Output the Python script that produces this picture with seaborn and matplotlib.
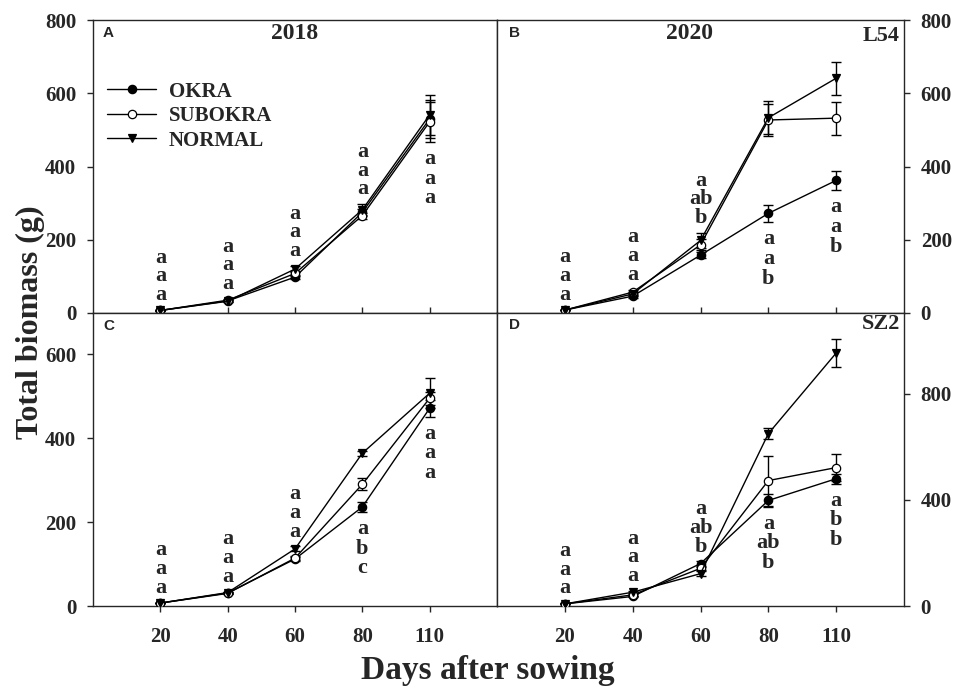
import numpy as np
import pandas as pd
import matplotlib
matplotlib.use("Agg")
import matplotlib.pyplot as plt
from matplotlib.lines import Line2D
import seaborn as sns

# ---------------- data ----------------
days = ["20", "40", "60", "80", "110"]
series = ["OKRA", "SUBOKRA", "NORMAL"]

# Panel A (2018)
a_okra = [7, 33, 98, 275, 530]
a_okra_err = [1, 3, 6, 10, 52]
a_sub = [7, 35, 108, 266, 522]
a_sub_err = [1, 3, 6, 8, 55]
a_norm = [7, 32, 120, 282, 541]
a_norm_err = [1, 3, 8, 15, 55]

# Panel B (2020, L54)
b_okra = [8, 46, 158, 272, 362]
b_okra_err = [1, 4, 8, 24, 27]
b_sub = [8, 57, 186, 527, 532]
b_sub_err = [1, 6, 15, 45, 45]
b_norm = [8, 52, 198, 533, 641]
b_norm_err = [1, 5, 20, 45, 45]

# Panel C
c_okra = [7, 31, 112, 236, 471]
c_okra_err = [1, 2, 5, 12, 20]
c_sub = [7, 30, 114, 290, 495]
c_sub_err = [1, 2, 5, 14, 15]
c_norm = [7, 32, 136, 364, 507]
c_norm_err = [1, 2, 6, 6, 36]

# Panel D (SZ2)
d_okra = [8, 36, 160, 398, 480]
d_okra_err = [2, 3, 8, 23, 19]
d_sub = [8, 42, 142, 473, 522]
d_sub_err = [2, 4, 6, 94, 52]
d_norm = [8, 52, 122, 650, 954]
d_norm_err = [2, 4, 10, 20, 52]

# significance letters (top to bottom) and whether they sit above or below
a_letters = [["a", "a", "a"], ["a", "a", "a"], ["a", "a", "a"], ["a", "a", "a"], ["a", "a", "a"]]
a_where = ["above", "above", "above", "above", "below"]
b_letters = [["a", "a", "a"], ["a", "a", "a"], ["a", "ab", "b"], ["a", "a", "b"], ["a", "a", "b"]]
b_where = ["above", "above", "above", "below", "below"]
c_letters = [["a", "a", "a"], ["a", "a", "a"], ["a", "a", "a"], ["a", "b", "c"], ["a", "a", "a"]]
c_where = ["above", "above", "above", "below", "below"]
d_letters = [["a", "a", "a"], ["a", "a", "a"], ["a", "ab", "b"], ["a", "ab", "b"], ["a", "b", "b"]]
d_where = ["above", "above", "above", "below", "below"]

# ---------------- style ----------------
sns.set_style("ticks")
plt.rcParams["font.family"] = ["Liberation Serif", "DejaVu Serif"]
plt.rcParams["font.weight"] = "bold"
plt.rcParams["axes.linewidth"] = 1.0

SERIF = ["Liberation Serif", "DejaVu Serif"]
SANS = ["Liberation Sans", "DejaVu Sans"]

fig = plt.figure(figsize=(9.56, 6.88), dpi=100)
W, H = 956, 688


def axes_px(x0, y0, x1, y1):
    return fig.add_axes([x0 / W, 1 - y1 / H, (x1 - x0) / W, (y1 - y0) / H])


axA = axes_px(93, 20, 497, 313)
axB = axes_px(497, 20, 904, 313)
axC = axes_px(93, 313, 497, 606)
axD = axes_px(497, 313, 904, 606)

markers = {"OKRA": dict(marker="o", markerfacecolor="black"),
           "SUBOKRA": dict(marker="o", markerfacecolor="white"),
           "NORMAL": dict(marker="v", markerfacecolor="black")}


def draw_panel(ax, vals, errs, letters, where, ylim, yticks):
    pos = np.arange(1, len(days) + 1)
    for name, v, e in zip(series, vals, errs):
        df = pd.DataFrame({"pos": pos, "val": v})
        ax.errorbar(df["pos"], df["val"], yerr=e, fmt="none", ecolor="black",
                    elinewidth=1.0, capsize=3.8, capthick=1.0, zorder=2)
        sns.lineplot(data=df, x="pos", y="val", ax=ax, color="black",
                     linewidth=1.0, markersize=6, markeredgecolor="black",
                     markeredgewidth=0.9, legend=False, zorder=3,
                     **markers[name])
    tops = np.max(np.array(vals) + np.array(errs), axis=0)
    bots = np.min(np.array(vals) - np.array(errs), axis=0)
    for i, (stack, w) in enumerate(zip(letters, where)):
        txt = "\n".join(stack)
        if w == "above":
            ax.annotate(txt, xy=(pos[i], tops[i]), xytext=(0, 3.5),
                        textcoords="offset points", ha="center", va="bottom",
                        multialignment="center", linespacing=0.92,
                        fontsize=16, fontweight="bold", family=SERIF)
        else:
            ax.annotate(txt, xy=(pos[i], bots[i]), xytext=(0, -5),
                        textcoords="offset points", ha="center", va="top",
                        multialignment="center", linespacing=0.98,
                        fontsize=16, fontweight="bold", family=SERIF)
    ax.set_xlim(0, 6)
    ax.set_ylim(*ylim)
    ax.set_yticks(yticks)
    ax.set_xticks(pos)
    ax.set_xlabel("")
    ax.set_ylabel("")
    for sp in ax.spines.values():
        sp.set_visible(True)
        sp.set_linewidth(1.0)


draw_panel(axA, [a_okra, a_sub, a_norm], [a_okra_err, a_sub_err, a_norm_err],
           a_letters, a_where, (0, 800), [0, 200, 400, 600, 800])
draw_panel(axB, [b_okra, b_sub, b_norm], [b_okra_err, b_sub_err, b_norm_err],
           b_letters, b_where, (0, 800), [0, 200, 400, 600, 800])
draw_panel(axC, [c_okra, c_sub, c_norm], [c_okra_err, c_sub_err, c_norm_err],
           c_letters, c_where, (0, 698), [0, 200, 400, 600])
draw_panel(axD, [d_okra, d_sub, d_norm], [d_okra_err, d_sub_err, d_norm_err],
           d_letters, d_where, (0, 1105), [0, 400, 800])

tick_font = dict(fontsize=15, fontweight="bold", family=SERIF)
for ax in (axA, axC):
    ax.tick_params(axis="y", direction="out", length=4, width=1, left=True,
                   right=False, pad=8)
    ax.set_yticklabels([str(int(t)) for t in ax.get_yticks()], **tick_font)
for ax in (axB, axD):
    ax.yaxis.tick_right()
    ax.tick_params(axis="y", direction="out", length=4, width=1, left=False,
                   right=True, pad=8)
    ax.set_yticklabels([str(int(t)) for t in ax.get_yticks()], **tick_font)
for ax in (axA, axB):
    ax.tick_params(axis="x", direction="in", length=4, width=1, labelbottom=False)
for ax in (axC, axD):
    ax.tick_params(axis="x", direction="out", length=4, width=1, pad=11)
    ax.set_xticklabels(days, **tick_font)

# panel letters and titles
for ax, lab, yy in ((axA, "A", 0.957), (axB, "B", 0.957), (axC, "C", 0.955), (axD, "D", 0.958)):
    ax.text(0.025 if lab in "AC" else 0.03, yy, lab, transform=ax.transAxes,
            ha="left", va="center", fontsize=11, fontweight="bold", family=SANS)
axA.text(0.5, 0.955, "2018", transform=axA.transAxes, ha="center", va="center",
         fontsize=17, fontweight="bold", family=SERIF)
axB.text(0.474, 0.955, "2020", transform=axB.transAxes, ha="center", va="center",
         fontsize=17, fontweight="bold", family=SERIF)
axB.text(0.99, 0.945, "L54", transform=axB.transAxes, ha="right", va="center",
         fontsize=16, fontweight="bold", family=SERIF)
axD.text(0.99, 0.962, "SZ2", transform=axD.transAxes, ha="right", va="center",
         fontsize=16, fontweight="bold", family=SERIF)

# legend
handles = [Line2D([], [], color="black", linewidth=1.0, markersize=6,
                  markeredgecolor="black", markeredgewidth=0.9, **markers[s])
           for s in series]
axA.legend(handles, series, loc="upper left", bbox_to_anchor=(0.035, 0.79),
           frameon=False, borderaxespad=0, borderpad=0, handlelength=2.35,
           handletextpad=0.6, labelspacing=0.22,
           prop=dict(family=SERIF, weight="bold", size=15))

fig.text(30 / W, 1 - 322 / H, "Total biomass (g)", rotation=90, ha="center",
         va="center", fontsize=23, fontweight="bold", family=SERIF)
fig.text(488 / W, 1 - 670 / H, "Days after sowing", ha="center", va="center",
         fontsize=24, fontweight="bold", family=SERIF)

fig.savefig("out.png", dpi=100)
